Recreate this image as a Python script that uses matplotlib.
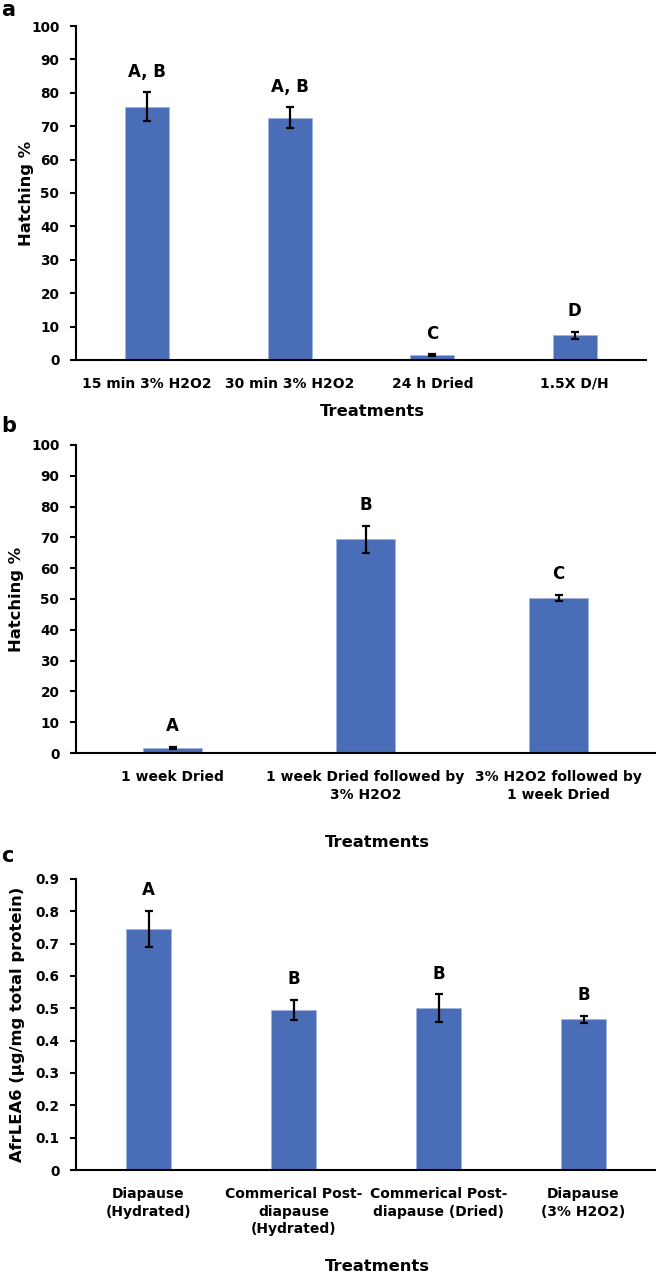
import numpy as np
import matplotlib.pyplot as plt

plt.rcParams['font.family'] = ['DejaVu Sans']

# panel a
a_labels = ['15 min 3% H2O2', '30 min 3% H2O2', '24 h Dried', '1.5X D/H']
a_values = [75.8, 72.6, 1.4, 7.4]
a_errors = [4.3, 3.0, 0.25, 1.0]
a_letters = ['A, B', 'A, B', 'C', 'D']

# panel b
b_labels = ['1 week Dried', '1 week Dried followed by\n3% H2O2', '3% H2O2 followed by\n1 week Dried']
b_values = [1.6, 69.4, 50.3]
b_errors = [0.3, 4.4, 1.0]
b_letters = ['A', 'B', 'C']

# panel c
c_labels = ['Diapause\n(Hydrated)', 'Commerical Post-\ndiapause\n(Hydrated)',
            'Commerical Post-\ndiapause (Dried)', 'Diapause\n(3% H2O2)']
c_values = [0.746, 0.496, 0.500, 0.466]
c_errors = [0.056, 0.031, 0.043, 0.011]
c_letters = ['A', 'B', 'B', 'B']

W, H = 656, 1276
BAR = '#4a6db8'


def px_axes(fig, left, right, top, bottom):
    return fig.add_axes([left / W, 1 - bottom / H, (right - left) / W, (bottom - top) / H])


def draw_panel(ax, labels, values, errors, letters, ymax, ystep, ylabel, xlab_y, ylab_x, fmt):
    x = np.arange(len(labels))
    ax.bar(x, values, width=0.31, color=BAR, edgecolor='#9fb4de', linewidth=0.6, zorder=2)
    ax.errorbar(x, values, yerr=errors, fmt='none', ecolor='black', elinewidth=1.6,
                capsize=3, capthick=1.6, zorder=3)
    for xi, v, e, t in zip(x, values, errors, letters):
        ax.annotate(t, (xi, v + e), xytext=(0, 15), textcoords='offset points',
                    ha='center', va='center', fontsize=12, fontweight='bold')
    ax.set_xlim(-0.5, len(labels) - 0.5)
    ax.set_ylim(0, ymax)
    ticks = np.arange(0, ymax + ystep / 2, ystep)
    ax.set_yticks(ticks)
    ax.set_yticklabels([fmt(v) for v in ticks], fontsize=9.8, fontweight='bold')
    ax.set_xticks(x)
    ax.set_xticklabels(labels, fontsize=10, fontweight='bold', linespacing=1.35)
    ax.tick_params(axis='x', length=0, pad=12)
    ax.tick_params(axis='y', length=4, width=1.5, direction='out', pad=8)
    for s in ['top', 'right']:
        ax.spines[s].set_visible(False)
    ax.spines['left'].set_linewidth(1.5)
    ax.spines['bottom'].set_linewidth(1.5)
    ax.set_ylabel(ylabel, fontsize=11.8, fontweight='bold')
    ax.set_xlabel('Treatments', fontsize=11.8, fontweight='bold')
    ax.yaxis.set_label_coords(ylab_x, 0.5)
    ax.xaxis.set_label_coords(0.52, xlab_y)


fig = plt.figure(figsize=(W / 100, H / 100), dpi=100)

ax_a = px_axes(fig, 76, 646, 26, 360)
draw_panel(ax_a, a_labels, a_values, a_errors, a_letters, 100, 10, 'Hatching %',
           -44 / 334, -0.074, lambda v: f'{v:.0f}')

ax_b = px_axes(fig, 76, 655, 445, 753)
draw_panel(ax_b, b_labels, b_values, b_errors, b_letters, 100, 10, 'Hatching %',
           -82 / 308, -0.09, lambda v: f'{v:.0f}')

ax_c = px_axes(fig, 76, 656, 879, 1170)
draw_panel(ax_c, c_labels, c_values, c_errors, c_letters, 0.9, 0.1,
           'AfrLEA6 (µg/mg total protein)', -89 / 291, -0.088,
           lambda v: '0' if v < 1e-9 else f'{v:.1f}')

for t, y in [('a', 10), ('b', 426), ('c', 856)]:
    fig.text(1 / W, 1 - y / H, t, fontsize=15, fontweight='bold', va='center', ha='left')

fig.savefig('out.png', dpi=100)
